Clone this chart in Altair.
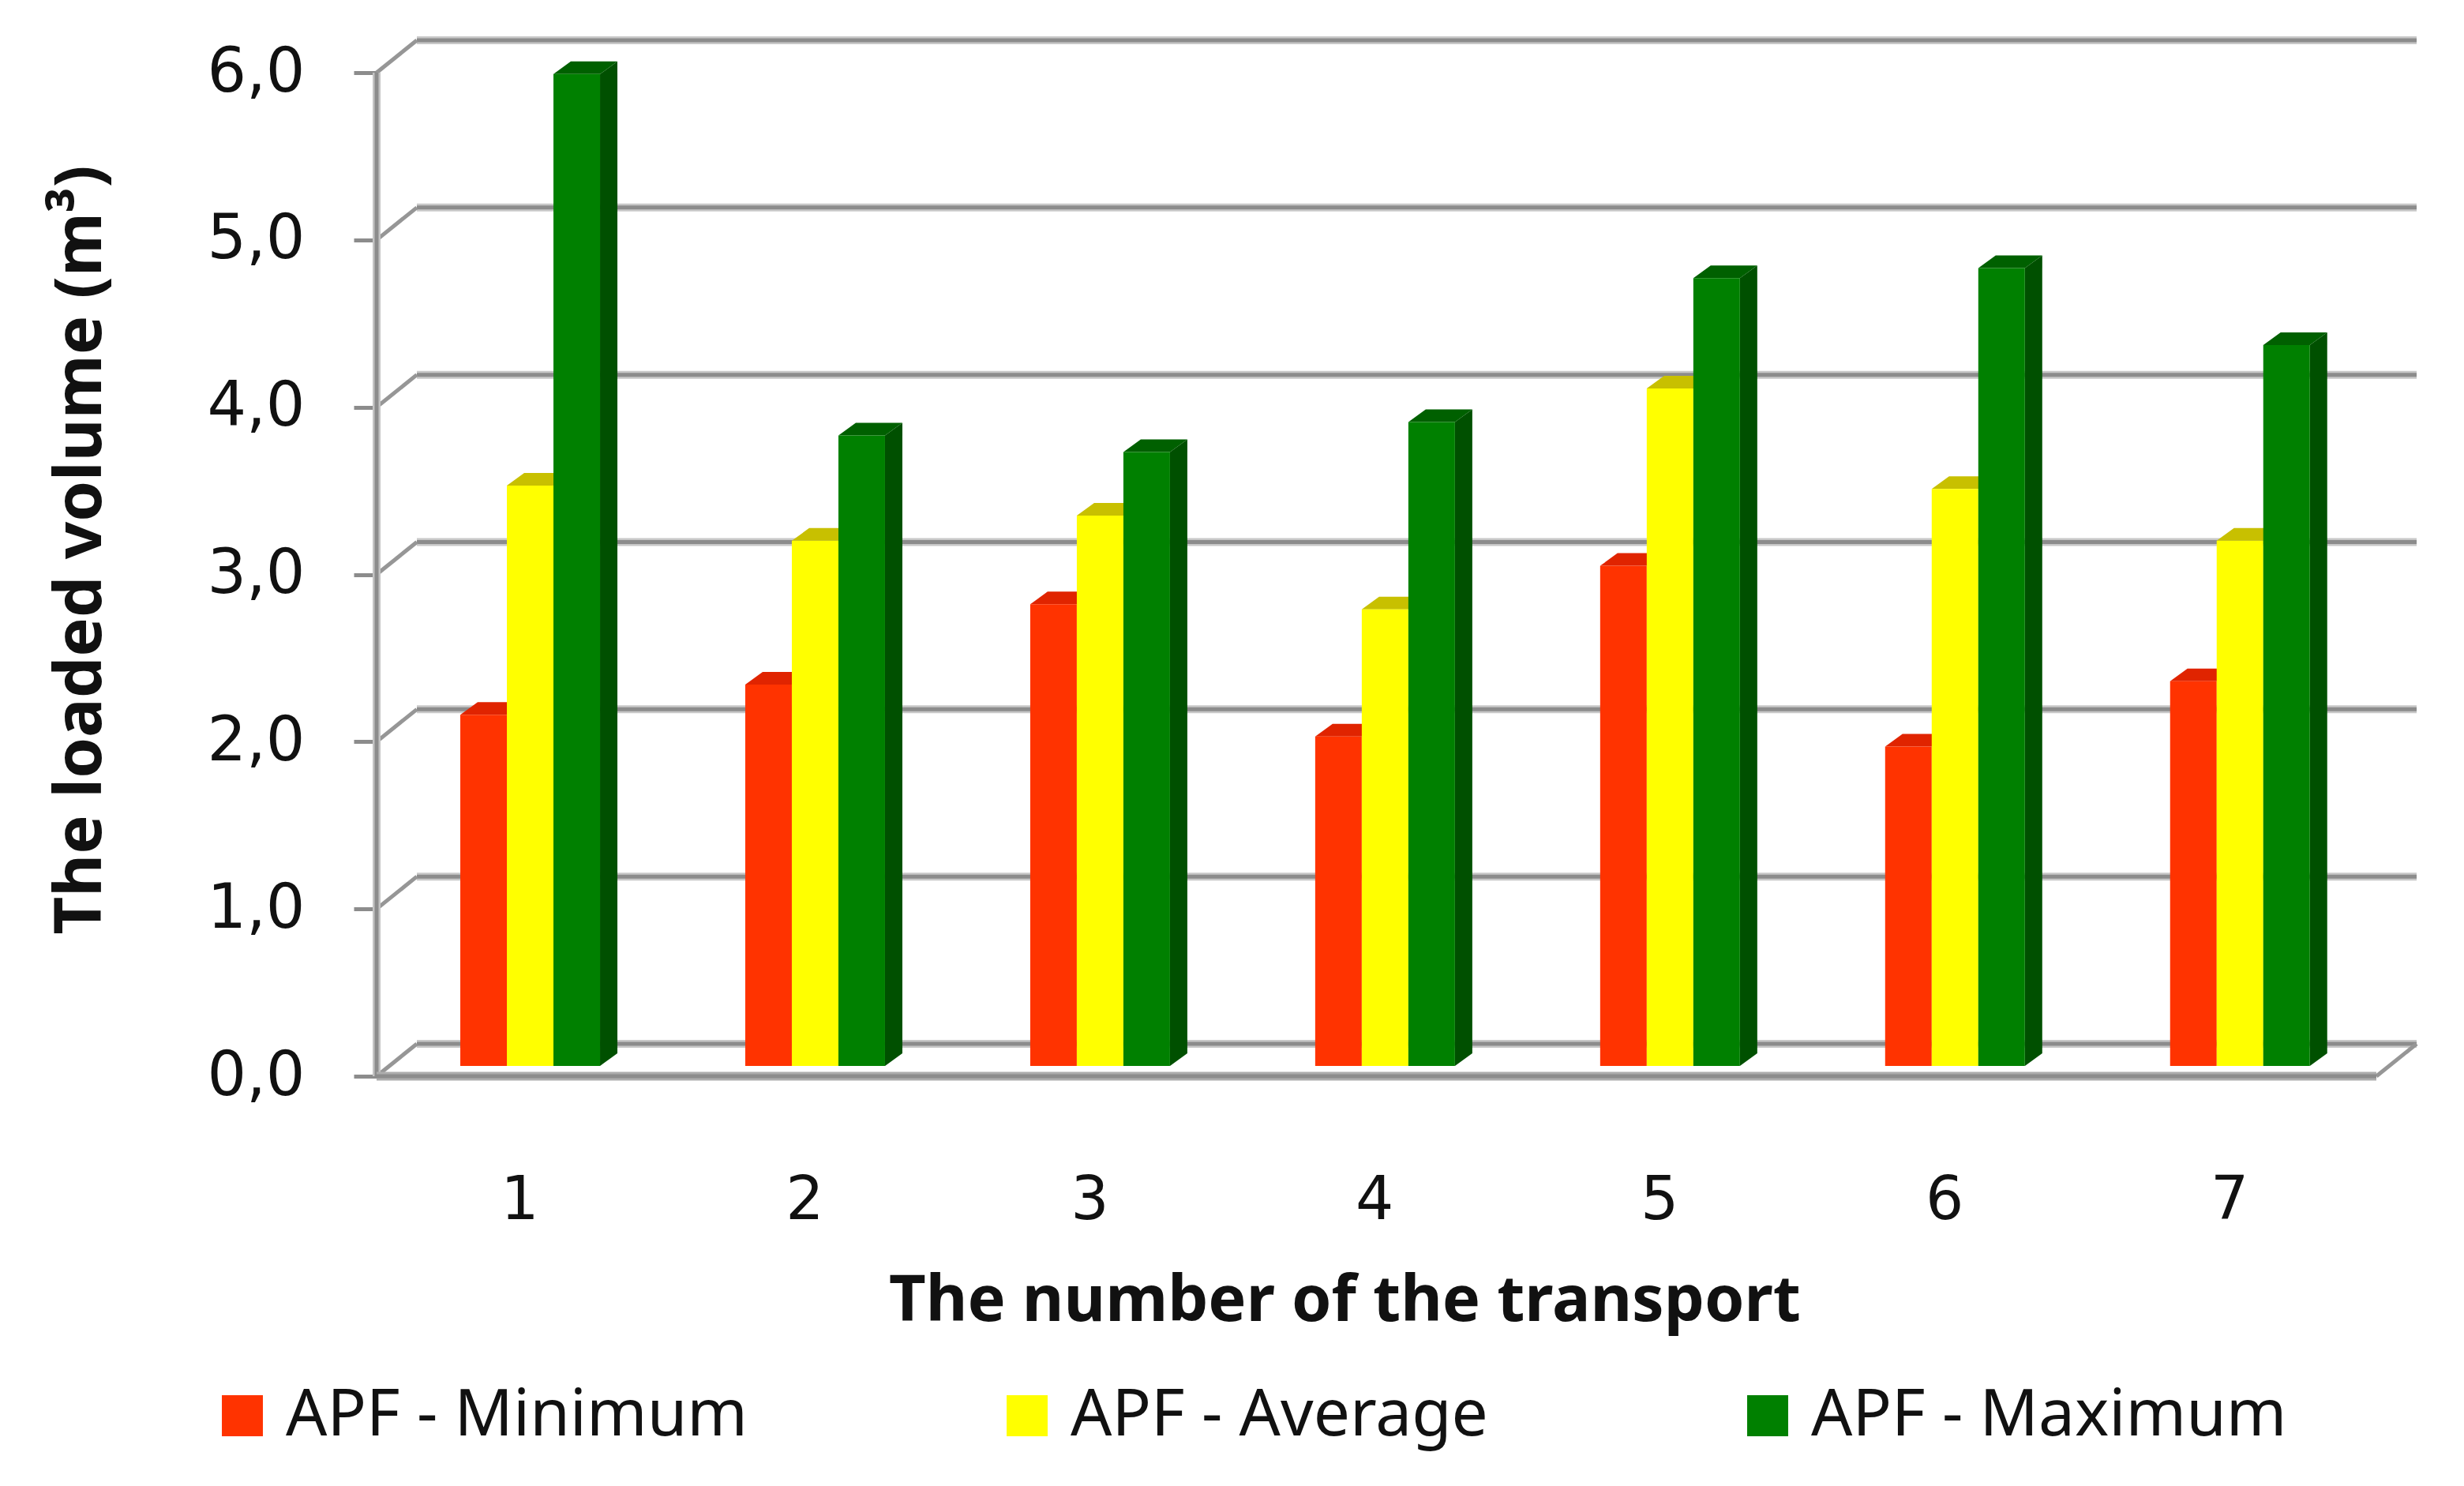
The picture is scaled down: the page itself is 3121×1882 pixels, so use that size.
import altair as alt
import pandas as pd

transports = [1, 2, 3, 4, 5, 6, 7]
apf_min = [2.10, 2.28, 2.76, 1.97, 2.99, 1.91, 2.30]
apf_avg = [3.47, 3.14, 3.29, 2.73, 4.05, 3.45, 3.14]
apf_max = [5.93, 3.77, 3.67, 3.85, 4.71, 4.77, 4.31]
series_names = ["APF - Minimum", "APF - Average", "APF - Maximum"]
series_values = [apf_min, apf_avg, apf_max]
front_colors = ["#ff3300", "#ffff00", "#008000"]
side_colors = ["#c02000", "#b0a800", "#005000"]
cap_colors = ["#e02400", "#c8c000", "#006000"]
y_ticks = [0, 1, 2, 3, 4, 5, 6]

FONT = "Noto Sans"
NUM_FONT = "DejaVu Sans"
PX_X = 2533 / 7
PX_Y = 1271 / 6
# 3D geometry in data units
wall_dx, wall_dy = 51 / PX_X, 41 / PX_Y
bar_dx, bar_dy = 22 / PX_X, 16 / PX_Y
lift = 13 / PX_Y
bar_w = 59 / PX_X
shift = -0.207
step = 0.9975


def group_pos(g):
    return g + (g - 1) * (step - 1)


fronts, shades = [], []
for s, (name, vals) in enumerate(zip(series_names, series_values)):
    for g, v in zip(transports, vals):
        x0 = group_pos(g) + shift + s * bar_w
        x1 = x0 + bar_w
        t = v + lift
        fronts.append(dict(x=x0, x2=x1, y=lift, y2=t, series=name))
        key = f"{s}-{g}"
        shades += [
            dict(key="side" + key, x=x1, y=t, y2=lift, c=side_colors[s]),
            dict(key="side" + key, x=x1 + bar_dx, y=t + bar_dy, y2=lift + bar_dy, c=side_colors[s]),
            dict(key="cap" + key, x=x0, y=t, y2=t, c=cap_colors[s]),
            dict(key="cap" + key, x=x0 + bar_dx, y=t + bar_dy, y2=t, c=cap_colors[s]),
            dict(key="cap" + key, x=x1, y=t + bar_dy, y2=t, c=cap_colors[s]),
            dict(key="cap" + key, x=x1 + bar_dx, y=t + bar_dy, y2=t + bar_dy, c=cap_colors[s]),
        ]
fronts = pd.DataFrame(fronts)
shades = pd.DataFrame(shades)

XMIN, XMAX = 0.5, 7.5
grid = pd.DataFrame([dict(x=XMIN + wall_dx, x2=XMAX + wall_dx, y=v + wall_dy, y2=v + wall_dy) for v in y_ticks])
diag = pd.DataFrame(
    [dict(x=XMIN, x2=XMIN + wall_dx, y=v, y2=v + wall_dy) for v in y_ticks]
    + [dict(x=XMAX, x2=XMAX + wall_dx, y=0, y2=wall_dy)]
)
front_line = pd.DataFrame([dict(x=XMIN, x2=XMAX, y=0, y2=0)])
left_line = pd.DataFrame([dict(x=XMIN, x2=XMIN, y=0, y2=6)])

x_enc = alt.X(
    "x:Q",
    scale=alt.Scale(domain=[XMIN, XMAX], nice=False, zero=False),
    axis=alt.Axis(
        values=[group_pos(g) for g in transports], labelExpr="format(round(datum.value),'d')",
        domain=False, ticks=False, grid=False,
        labelFont=NUM_FONT, labelFontSize=76, labelColor="#111", labelPadding=120,
        title="The number of the transport", titleFont=FONT, titleFontSize=81,
        titleFontWeight="bold", titleColor="#111", titleX=1226, titleY=285,
        titleAlign="center", titleBaseline="middle",
    ),
)
y_enc = alt.Y(
    "y:Q",
    stack=None,
    scale=alt.Scale(domain=[0, 6], nice=False, zero=False),
    axis=alt.Axis(
        values=y_ticks, domain=False, grid=False, ticks=True, tickSize=29, tickWidth=5,
        tickColor="#8c8c8c", labelExpr="replace(format(datum.value,'.1f'),'.',',')",
        labelFont=NUM_FONT, labelFontSize=78, labelColor="#111", labelPadding=62,
        title="The loaded volume (m³)", titleFont=FONT, titleFontSize=83,
        titleFontWeight="bold", titleColor="#111", titleX=-375, titleY=604,
        titleAlign="center", titleBaseline="middle", titleAngle=-90,
    ),
)


def rule(df, width, color):
    return alt.Chart(df).mark_rule(strokeWidth=width, color=color).encode(
        x=x_enc, x2="x2:Q", y=y_enc, y2="y2:Q"
    )


layers = [
    rule(grid, 10, "#c8c8c8"),
    rule(grid, 5, "#8c8c8c"),
    rule(diag, 5, "#969696"),
    rule(left_line, 10, "#c4c4c4"),
    rule(left_line, 5, "#8c8c8c"),
    rule(front_line, 11, "#acacac"),
    rule(front_line, 5, "#8c8c8c"),
    alt.Chart(shades).mark_area(interpolate="linear").encode(
        x=x_enc, y=y_enc,
        y2="y2:Q", detail="key:N", color=alt.Color("c:N", scale=None, legend=None),
    ),
    alt.Chart(fronts).mark_rect().encode(
        x=x_enc, x2="x2:Q", y=y_enc, y2="y2:Q",
        fill=alt.Fill(
            "series:N",
            scale=alt.Scale(domain=series_names, range=front_colors),
            sort=series_names,
            legend=alt.Legend(
                title=None, orient="none", legendX=-211, legendY=1660, direction="horizontal",
                columns=3, columnPadding=313, symbolType="square", symbolSize=2700,
                symbolStrokeWidth=0, labelFont=FONT, labelFontSize=82, labelColor="#111",
                labelOffset=14, labelLimit=1000,
            ),
        ),
    ),
]

chart = (
    alt.layer(*layers)
    .resolve_scale(color="independent")
    .properties(
        width=2533, height=1271,
        padding={"left": 469, "top": 84, "right": 100, "bottom": 510},
        autosize=alt.AutoSizeParams(type="none"),
        background="white",
    )
    .configure_view(stroke=None)
)
chart.save("out.html", embed_options={"renderer": "svg", "actions": False})
